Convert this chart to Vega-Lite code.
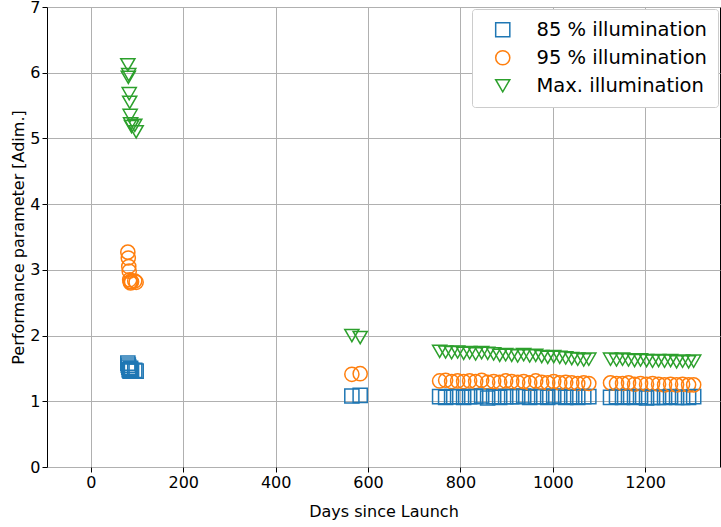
{
  "$schema": "https://vega.github.io/schema/vega-lite/v6.json",
  "width": 673,
  "height": 460,
  "autosize": {"type": "none"},
  "padding": {"left": 47, "top": 7, "right": 1, "bottom": 60},
  "background": "white",
  "config": {
    "font": "DejaVu Sans",
    "view": {"stroke": "black", "strokeWidth": 1},
    "axis": {
      "domain": false,
      "grid": true,
      "gridColor": "#b0b0b0",
      "gridWidth": 1,
      "tickColor": "black",
      "tickSize": 5,
      "labelFontSize": 16,
      "labelColor": "black",
      "titleFontSize": 16,
      "titleFontWeight": "normal",
      "titleColor": "black"
    }
  },
  "data": {
    "values": [
      {"d": 80, "p85": 1.58, "p95": 3.27, "pmax": 6.12},
      {"d": 81, "p85": 1.55, "p95": 3.18, "pmax": 5.93},
      {"d": 82, "p85": 1.52, "p95": 3.05, "pmax": 5.97},
      {"d": 83, "p85": 1.48, "p95": 2.98, "pmax": 5.68},
      {"d": 84, "p85": 1.47, "p95": 2.85, "pmax": 5.55},
      {"d": 85, "p85": 1.46, "p95": 2.82, "pmax": 5.35},
      {"d": 86, "p85": 1.5, "p95": 2.8, "pmax": 5.22},
      {"d": 88, "p85": 1.47, "p95": 2.82, "pmax": 5.18},
      {"d": 95, "p85": 1.47, "p95": 2.83, "pmax": 5.2},
      {"d": 98, "p85": 1.46, "p95": 2.81, "pmax": 5.1},
      {"d": 565, "p85": 1.08, "p95": 1.41, "pmax": 2.0},
      {"d": 583, "p85": 1.09, "p95": 1.42, "pmax": 1.97},
      {"d": 755, "p85": 1.07, "p95": 1.31, "pmax": 1.76},
      {"d": 768, "p85": 1.06, "p95": 1.32, "pmax": 1.75},
      {"d": 781, "p85": 1.07, "p95": 1.3, "pmax": 1.74},
      {"d": 794, "p85": 1.07, "p95": 1.31, "pmax": 1.75},
      {"d": 807, "p85": 1.06, "p95": 1.3, "pmax": 1.73},
      {"d": 820, "p85": 1.07, "p95": 1.31, "pmax": 1.74},
      {"d": 833, "p85": 1.07, "p95": 1.3, "pmax": 1.72},
      {"d": 846, "p85": 1.08, "p95": 1.32, "pmax": 1.74},
      {"d": 859, "p85": 1.05, "p95": 1.29, "pmax": 1.73},
      {"d": 872, "p85": 1.07, "p95": 1.3, "pmax": 1.72},
      {"d": 885, "p85": 1.06, "p95": 1.29, "pmax": 1.7},
      {"d": 898, "p85": 1.07, "p95": 1.31, "pmax": 1.71},
      {"d": 911, "p85": 1.07, "p95": 1.3, "pmax": 1.7},
      {"d": 924, "p85": 1.07, "p95": 1.29, "pmax": 1.69},
      {"d": 937, "p85": 1.08, "p95": 1.3, "pmax": 1.71},
      {"d": 950, "p85": 1.06, "p95": 1.28, "pmax": 1.69},
      {"d": 963, "p85": 1.07, "p95": 1.31, "pmax": 1.7},
      {"d": 976, "p85": 1.07, "p95": 1.29, "pmax": 1.68},
      {"d": 989, "p85": 1.06, "p95": 1.28, "pmax": 1.67},
      {"d": 1002, "p85": 1.08, "p95": 1.3, "pmax": 1.68},
      {"d": 1015, "p85": 1.07, "p95": 1.28, "pmax": 1.67},
      {"d": 1028, "p85": 1.06, "p95": 1.29, "pmax": 1.66},
      {"d": 1041, "p85": 1.07, "p95": 1.28, "pmax": 1.65},
      {"d": 1054, "p85": 1.06, "p95": 1.27, "pmax": 1.64},
      {"d": 1067, "p85": 1.07, "p95": 1.28, "pmax": 1.63},
      {"d": 1078, "p85": 1.07, "p95": 1.27, "pmax": 1.64},
      {"d": 1125, "p85": 1.06, "p95": 1.28, "pmax": 1.64},
      {"d": 1138, "p85": 1.07, "p95": 1.27, "pmax": 1.63},
      {"d": 1151, "p85": 1.06, "p95": 1.27, "pmax": 1.64},
      {"d": 1164, "p85": 1.07, "p95": 1.28, "pmax": 1.63},
      {"d": 1177, "p85": 1.06, "p95": 1.26, "pmax": 1.62},
      {"d": 1190, "p85": 1.07, "p95": 1.27, "pmax": 1.63},
      {"d": 1203, "p85": 1.05, "p95": 1.26, "pmax": 1.62},
      {"d": 1216, "p85": 1.06, "p95": 1.27, "pmax": 1.61},
      {"d": 1229, "p85": 1.06, "p95": 1.26, "pmax": 1.62},
      {"d": 1242, "p85": 1.06, "p95": 1.25, "pmax": 1.61},
      {"d": 1255, "p85": 1.07, "p95": 1.26, "pmax": 1.62},
      {"d": 1268, "p85": 1.06, "p95": 1.25, "pmax": 1.6},
      {"d": 1281, "p85": 1.06, "p95": 1.26, "pmax": 1.61},
      {"d": 1294, "p85": 1.06, "p95": 1.25, "pmax": 1.6},
      {"d": 1305, "p85": 1.07, "p95": 1.25, "pmax": 1.61}
    ]
  },
  "transform": [
    {"fold": ["p85", "p95", "pmax"], "as": ["series", "value"]}
  ],
  "mark": {"type": "point", "filled": false, "strokeWidth": 1.5, "size": 200, "opacity": 1},
  "encoding": {
    "x": {
      "field": "d",
      "type": "quantitative",
      "scale": {"domain": [-95, 1362], "nice": false, "zero": false},
      "axis": {"values": [0, 200, 400, 600, 800, 1000, 1200], "format": "d", "title": "Days since Launch", "titlePadding": 13}
    },
    "y": {
      "field": "value",
      "type": "quantitative",
      "scale": {"domain": [0, 7], "nice": false},
      "axis": {"values": [0, 1, 2, 3, 4, 5, 6, 7], "title": "Performance parameter [Adim.]", "titlePadding": 3}
    },
    "color": {
      "field": "series",
      "type": "nominal",
      "scale": {"domain": ["p85", "p95", "pmax"], "range": ["#1f77b4", "#ff7f0e", "#2ca02c"]},
      "legend": {
        "title": null,
        "orient": "top-right",
        "offset": 2,
        "padding": 11,
        "fillColor": "white",
        "strokeColor": "#cccccc",
        "cornerRadius": 3,
        "labelFontSize": 19.5,
        "labelColor": "black",
        "labelLimit": 400,
        "symbolSize": 200,
        "symbolStrokeWidth": 1.5,
        "symbolFillColor": "transparent",
        "symbolOffset": 10,
        "rowPadding": 7,
        "labelOffset": 24,
        "labelExpr": "datum.value == 'p85' ? '85 % illumination' : datum.value == 'p95' ? '95 % illumination' : 'Max. illumination'"
      }
    },
    "shape": {
      "field": "series",
      "type": "nominal",
      "scale": {"domain": ["p85", "p95", "pmax"], "range": ["square", "circle", "triangle-down"]},
      "legend": null
    }
  }
}
